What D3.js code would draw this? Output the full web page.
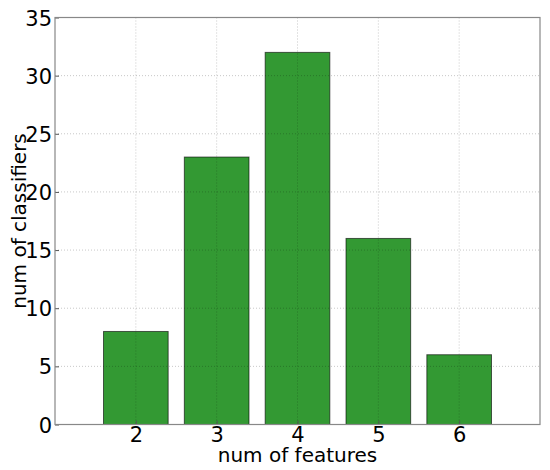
<!DOCTYPE html>
<html>
<head>
<meta charset="utf-8">
<script src="https://cdn.jsdelivr.net/npm/d3@7"></script>
<style>
  body { margin: 0; background: #fff; }
  text { font-family: "DejaVu Sans", sans-serif; fill: #000; }
</style>
</head>
<body>
<div id="chart"></div>
<script>
// data
const features = [2, 3, 4, 5, 6];
const classifiers = [8, 23, 32, 16, 6];
const yTicks = [0, 5, 10, 15, 20, 25, 30, 35];

const margin = {top: 17.5, right: 10, bottom: 45.5, left: 55},
    width = 550 - margin.left - margin.right,
    height = 470 - margin.top - margin.bottom;

const svg = d3.select("#chart")
  .append("svg")
    .attr("width", 550)
    .attr("height", 470)
  .append("g")
    .attr("transform", `translate(${margin.left},${margin.top})`);

const x = d3.scaleLinear().domain([1, 7]).range([0, width]);
const y = d3.scaleLinear().domain([0, 35]).range([height, 0]);
const barW = x(1.8) - x(1);

// bars
svg.selectAll("rect.bar")
  .data(features)
  .join("rect")
    .attr("class", "bar")
    .attr("x", (d) => x(d) - barW / 2)
    .attr("y", (d, i) => y(classifiers[i]))
    .attr("width", barW)
    .attr("height", (d, i) => y(0) - y(classifiers[i]))
    .attr("fill", "#008000")
    .attr("fill-opacity", 0.8)
    .attr("stroke", "#000")
    .attr("stroke-opacity", 0.6)
    .attr("stroke-width", 1);

// grid (drawn on top, like the original)
svg.append("g")
  .selectAll("line")
  .data(yTicks.slice(1, -1))
  .join("line")
    .attr("x1", 0).attr("x2", width)
    .attr("y1", (d) => y(d)).attr("y2", (d) => y(d))
    .attr("stroke", "#000").attr("stroke-opacity", 0.22)
    .attr("stroke-dasharray", "1,2");
svg.append("g")
  .selectAll("line")
  .data(features)
  .join("line")
    .attr("x1", (d) => x(d)).attr("x2", (d) => x(d))
    .attr("y1", 0).attr("y2", height)
    .attr("stroke", "#000").attr("stroke-opacity", 0.22)
    .attr("stroke-dasharray", "1,2");

// axes
const xAxis = svg.append("g")
  .attr("transform", `translate(0,${height})`)
  .call(d3.axisBottom(x).tickValues(features).tickFormat(d3.format("d")).tickSizeInner(-4).tickSizeOuter(0).tickPadding(3));
xAxis.selectAll("text").style("font-size", "21px");

const yAxis = svg.append("g")
  .call(d3.axisLeft(y).tickValues(yTicks).tickSizeInner(-4).tickSizeOuter(0).tickPadding(3));
yAxis.selectAll("text").style("font-size", "21px").attr("dy", "0.36em");

svg.selectAll(".domain").remove();
svg.selectAll(".tick line").attr("stroke", "#555");

// frame
svg.append("rect")
  .attr("width", width).attr("height", height)
  .attr("fill", "none").attr("stroke", "#888").attr("stroke-width", 1.2);

// labels
svg.append("text")
  .attr("x", width / 2)
  .attr("y", height + 37.5)
  .attr("text-anchor", "middle")
  .style("font-size", "20px")
  .text("num of features");

svg.append("text")
  .attr("transform", `translate(${25.5 - margin.left},${height / 2}) rotate(-90)`)
  .attr("text-anchor", "middle")
  .style("font-size", "20px")
  .text("num of classifiers");
</script>
</body>
</html>
